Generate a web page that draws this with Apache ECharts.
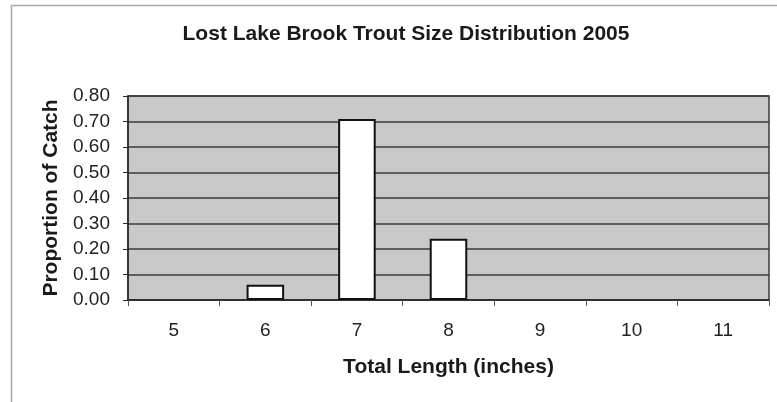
<!DOCTYPE html>
<html>
<head>
<meta charset="utf-8">
<script src="https://cdn.jsdelivr.net/npm/echarts@6/dist/echarts.min.js"></script>
<style>
  html, body { margin: 0; padding: 0; background: #ffffff; }
  #chart { width: 777px; height: 402px; }
</style>
</head>
<body>
<div id="chart"></div>
<script>
// Brook trout catch by length class (proportion of total catch)
const lengthClasses = ['5', '6', '7', '8', '9', '10', '11'];
const proportionOfCatch = [0, 0.06, 0.71, 0.24, 0, 0, 0];
const yTicks = { min: 0, max: 0.8, step: 0.1 };

const chart = echarts.init(document.getElementById('chart'), null, { renderer: 'canvas' });

const font = 'Arial, "Liberation Sans", sans-serif';

// Empty length classes get no outline so they do not leave a stub on the axis
const barData = proportionOfCatch.map(v =>
  v === 0 ? { value: v, itemStyle: { borderWidth: 0, opacity: 0 } } : v
);

chart.setOption({
  backgroundColor: '#ffffff',
  animation: false,
  title: {
    text: 'Lost Lake Brook Trout Size Distribution 2005',
    left: 401,
    textAlign: 'center',
    top: 19,
    textStyle: { fontFamily: font, fontSize: 21, fontWeight: 'bold', color: '#1a1a1a' }
  },
  graphic: [{
    type: 'rect',
    shape: { x: 11.5, y: 5.5, width: 800, height: 420 },
    style: { fill: 'none', stroke: '#a8a8a8', lineWidth: 1.5 },
    silent: true,
    z: -1
  }],
  grid: {
    left: 128, right: 8, top: 96, bottom: 102,
    show: true,
    backgroundColor: '#c9c9c9',
    borderColor: '#3a3a3a',
    borderWidth: 1.5
  },
  xAxis: {
    type: 'category',
    data: lengthClasses,
    name: 'Total Length (inches)',
    nameLocation: 'middle',
    nameGap: 57,
    nameTextStyle: { fontFamily: font, fontSize: 21, fontWeight: 'bold', color: '#1a1a1a' },
    axisLine: { lineStyle: { color: '#2a2a2a', width: 1.5 } },
    axisTick: { show: true, alignWithLabel: false, length: 6, lineStyle: { color: '#555' } },
    axisLabel: { fontFamily: font, fontSize: 19, color: '#222', margin: 21 },
    splitLine: { show: false }
  },
  yAxis: {
    type: 'value',
    min: yTicks.min,
    max: yTicks.max,
    interval: yTicks.step,
    name: 'Proportion of Catch',
    nameLocation: 'middle',
    nameGap: 65,
    nameTextStyle: { fontFamily: font, fontSize: 21, fontWeight: 'bold', color: '#1a1a1a' },
    axisLine: { show: true, lineStyle: { color: '#2a2a2a', width: 1.5 } },
    axisTick: { show: true, length: 5, lineStyle: { color: '#2a2a2a' } },
    axisLabel: {
      fontFamily: font, fontSize: 19, color: '#222', margin: 18,
      formatter: v => v.toFixed(2)
    },
    splitLine: { show: true, lineStyle: { color: '#3a3a3a', width: 1.5 } }
  },
  series: [{
    type: 'bar',
    data: barData,
    barWidth: '41%',
    itemStyle: { color: '#ffffff', borderColor: '#111111', borderWidth: 2 }
  }]
});
</script>
</body>
</html>
